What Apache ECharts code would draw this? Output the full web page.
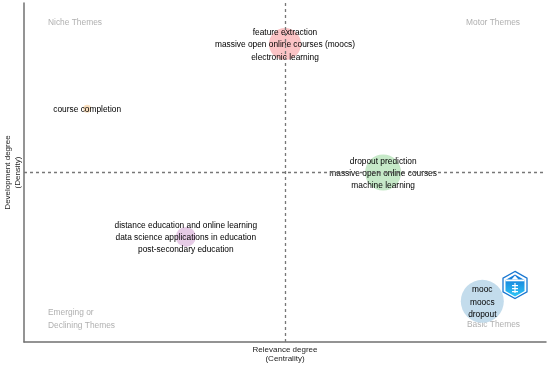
<!DOCTYPE html>
<html><head><meta charset="utf-8">
<style>html,body{margin:0;padding:0;background:#fff}#c{width:550px;height:365px}</style>
<script src="https://cdn.jsdelivr.net/npm/echarts@6/dist/echarts.min.js"></script>
</head><body><div id="c"></div>
<script>
const themeLabels = [
  "feature extraction\nmassive open online courses (moocs)\nelectronic learning",
  "course completion",
  "dropout prediction\nmassive open online courses\nmachine learning",
  "distance education and online learning\ndata science applications in education\npost-secondary education",
  "mooc\nmoocs\ndropout"
];
const centrality = [0.5, 0.121, 0.688, 0.31, 0.878];
const density = [0.879, 0.688, 0.5, 0.31, 0.12];
const bubbleSizes = [32, 8, 36, 20, 43];
const bubbleColors = ["#fbc4c6", "#fbe0c0", "#c6e9c8", "#e6cbe6", "#c3dcec"];
const quadrantNames = ["Niche Themes", "Motor Themes", "Emerging or\nDeclining Themes", "Basic Themes"];
const xTitle = "Relevance degree\n(Centrality)";
const yTitle = "Development degree\n(Density)";
const font = '"Liberation Sans", Arial, sans-serif';
const chart = echarts.init(document.getElementById('c'), null, {renderer:'canvas'});
const quad = (text, o) => Object.assign({type:'text', silent:true, z:1,
  style:{text, font:'8.4px '+font, fill:'#b0b0b0', lineHeight:12.2}}, o);
const hex = (cx, cy, rx, ry) => [[cx,cy-ry],[cx+rx,cy-ry/2],[cx+rx,cy+ry/2],[cx,cy+ry],[cx-rx,cy+ry/2],[cx-rx,cy-ry/2]];
chart.setOption({
  animation:false,
  backgroundColor:'#fff',
  grid:{left:24, right:4, top:3, bottom:23, containLabel:false, outerBoundsMode:'none'},
  xAxis:{type:'value', min:0, max:1, name:xTitle, nameLocation:'middle', nameGap:3,
    nameTextStyle:{fontFamily:font, fontSize:8, color:'#222', lineHeight:9, verticalAlign:'top'},
    axisLine:{show:true, onZero:false, lineStyle:{color:'#707070', width:1.5}},
    axisTick:{show:false}, axisLabel:{show:false}, splitLine:{show:false}},
  yAxis:{type:'value', min:0, max:1, name:yTitle, nameLocation:'middle', nameGap:1, nameRotate:90,
    nameTextStyle:{fontFamily:font, fontSize:8, color:'#222', lineHeight:10, verticalAlign:'bottom'},
    axisLine:{show:true, onZero:false, lineStyle:{color:'#707070', width:1.5}},
    axisTick:{show:false}, axisLabel:{show:false}, splitLine:{show:false}},
  series:[{
    type:'scatter',
    data:themeLabels.map((n,i)=>({name:n, value:[centrality[i], density[i]],
      symbolSize:bubbleSizes[i], itemStyle:{color:bubbleColors[i], opacity:1}})),
    label:{show:true, position:'inside', offset:[0,1], formatter:p=>p.name, align:'center', verticalAlign:'middle',
      fontFamily:font, fontSize:8.35, color:'#000', lineHeight:12.2},
    emphasis:{disabled:true},
    markLine:{silent:true, symbol:'none', label:{show:false}, z:3,
      lineStyle:{type:[3,3], color:'#777', width:1.3},
      data:[{xAxis:0.5},{yAxis:0.5}]}
  }],
  graphic:[
    quad(quadrantNames[0], {left:48, top:17}),
    quad(quadrantNames[1], {left:466, top:17}),
    quad(quadrantNames[2], {left:48, top:307}),
    quad(quadrantNames[3], {left:467, top:319}),
    {type:'group', z:5, silent:true, children:[
      {type:'polygon', shape:{points:hex(515,285,12,13.6)}, style:{fill:'#fff', stroke:'#1a78d2', lineWidth:1.3}},
      {type:'polygon', shape:{points:hex(515,285.5,9.5,11)},
        style:{fill:new echarts.graphic.LinearGradient(0,0,0,1,[{offset:0,color:'#1272d6'},{offset:1,color:'#2cc6f6'}])}},
      {type:'rect', shape:{x:505.5,y:279.5,width:19,height:1.8}, style:{fill:'#fff'}},
      {type:'polygon', shape:{points:[[515,275.5],[518.5,279.5],[511.5,279.5]]}, style:{fill:'#fff'}},
      {type:'rect', shape:{x:512,y:285,width:6,height:1.2}, style:{fill:'#fff'}},
      {type:'rect', shape:{x:512,y:288,width:6,height:1.2}, style:{fill:'#fff'}},
      {type:'rect', shape:{x:512,y:291,width:6,height:1.2}, style:{fill:'#fff'}},
      {type:'rect', shape:{x:514.4,y:283,width:1.2,height:10}, style:{fill:'#fff'}}
    ]}
  ]
});
</script></body></html>
